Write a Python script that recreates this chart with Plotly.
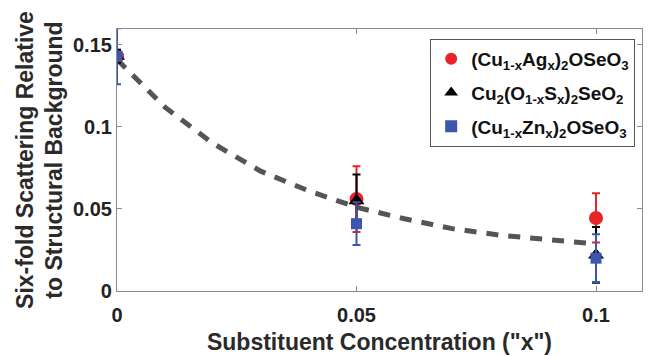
import plotly.graph_objects as go

# Substituent concentration x
conc = [0.0, 0.05, 0.1]

# (Cu1-xAgx)2OSeO3
ag_val = [0.143, 0.056, 0.0445]
ag_err = [0.004, 0.020, 0.0150]

# Cu2(O1-xSx)2SeO2
s_val = [0.143, 0.055, 0.022]
s_err = [0.004, 0.016, 0.017]

# (Cu1-xZnx)2OSeO3
zn_val = [0.143, 0.041, 0.020]
zn_err = [0.017, 0.013, 0.0145]

# Guide-to-the-eye trend curve
trend_x = [0.0, 0.01, 0.02, 0.03, 0.04, 0.05, 0.06, 0.07, 0.08, 0.09, 0.1]
trend_y = [0.141, 0.112, 0.090, 0.073, 0.061, 0.051, 0.044, 0.038, 0.034, 0.031, 0.0287]

x_ticks = [0, 0.05, 0.1]
x_tick_text = ["0", "0.05", "0.1"]
y_ticks = [0, 0.05, 0.1, 0.15]
y_tick_text = ["0", "0.05", "0.1", "0.15"]

FONT = "Liberation Sans, Arial, sans-serif"
RED = "#e8242b"
BLUE = "#3a56ad"

fig = go.Figure()

fig.add_trace(go.Scatter(
    x=trend_x, y=trend_y, mode="lines",
    line=dict(color="#555555", width=5, dash="12px,10px"),
    showlegend=False, hoverinfo="skip",
))

fig.add_trace(go.Scatter(
    x=conc, y=ag_val, mode="markers", legendgroup="ag",
    name="<b>(Cu<sub>1-x</sub>Ag<sub>x</sub>)<sub>2</sub>OSeO<sub>3</sub></b>",
    marker=dict(symbol="circle", size=14, color=RED),
    error_y=dict(type="data", array=ag_err, color=RED, thickness=2, width=4),
))

fig.add_trace(go.Scatter(
    x=conc, y=s_val, mode="markers", legendgroup="s",
    name="<b>Cu<sub>2</sub>(O<sub>1-x</sub>S<sub>x</sub>)<sub>2</sub>SeO<sub>2</sub></b>",
    marker=dict(symbol="triangle-up", size=14, color="black"),
    error_y=dict(type="data", array=s_err, color="black", thickness=2, width=4),
))

fig.add_trace(go.Scatter(
    x=conc, y=zn_val, mode="markers", legendgroup="zn",
    name="<b>(Cu<sub>1-x</sub>Zn<sub>x</sub>)<sub>2</sub>OSeO<sub>3</sub></b>",
    marker=dict(symbol="square", size=11, color=BLUE),
    error_y=dict(type="data", array=zn_err, color=BLUE, thickness=2, width=4),
))

axis_common = dict(
    showgrid=False, zeroline=False,
    showline=True, linecolor="#8a8a8a", linewidth=1.2,
    mirror="ticks", ticks="inside", ticklen=5, tickcolor="#8a8a8a",
    tickfont=dict(family=FONT, size=20, color="#222222"),
)

fig.update_layout(
    width=649, height=356,
    margin=dict(l=117, r=6, t=29, b=62),
    paper_bgcolor="white", plot_bgcolor="white",
    font=dict(family=FONT, color="#222222"),
    xaxis=dict(
        range=[0, 0.1096], tickvals=x_ticks,
        ticktext=["<b>%s</b>" % t for t in x_tick_text],
        ticklabelstandoff=6,
        title=dict(text="<b>Substituent Concentration (\"x\")</b>",
                   font=dict(family=FONT, size=23, color="#2a2a2a"), standoff=8),
        **axis_common,
    ),
    yaxis=dict(
        range=[0, 0.1596], tickvals=y_ticks,
        ticktext=["<b>%s</b>" % t for t in y_tick_text],
        title=dict(text="<b>Six-fold Scattering Relative<br>to Structural Background</b>",
                   font=dict(family=FONT, size=23, color="#2a2a2a"), standoff=3),
        **axis_common,
    ),
    legend=dict(
        x=0.987, y=0.962, xanchor="right", yanchor="top",
        bgcolor="white", bordercolor="#555555", borderwidth=1,
        font=dict(family=FONT, size=19, color="#111111"),
        tracegroupgap=6, itemsizing="constant",
    ),
)

fig.write_html("out.html")
